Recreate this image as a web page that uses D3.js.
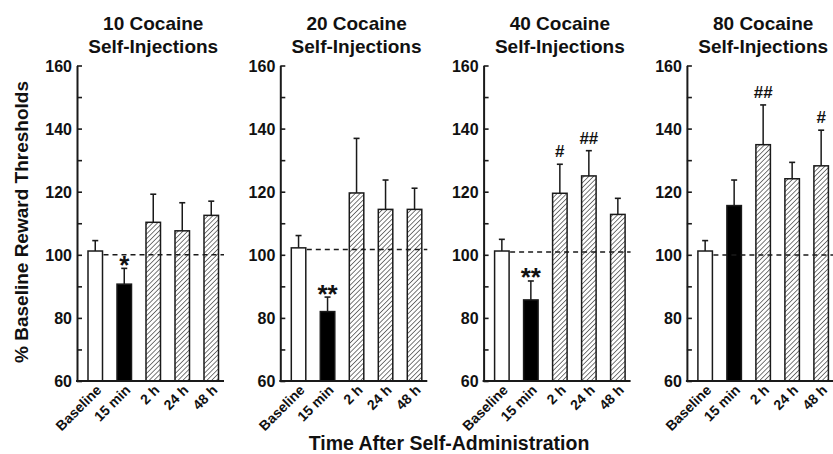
<!DOCTYPE html>
<html>
<head>
<meta charset="utf-8">
<script src="https://cdn.jsdelivr.net/npm/d3@7"></script>
<style>
  html, body { margin: 0; padding: 0; background: #fff; }
  svg { display: block; }
  text { font-family: "Liberation Sans", Arial, Helvetica, sans-serif; font-weight: bold; fill: #111; }
</style>
</head>
<body>
<svg id="chart" width="833" height="454"></svg>
<script>
// ---- data ----
const panelTitles = ["10 Cocaine", "20 Cocaine", "40 Cocaine", "80 Cocaine"];
const subTitle = "Self-Injections";
const categories = ["Baseline", "15 min", "2 h", "24 h", "48 h"];
const barKinds = ["open", "solid", "hatch", "hatch", "hatch"];
const means10 = [101.2, 90.7, 110.3, 107.6, 112.5];
const means20 = [102.2, 82.0, 119.6, 114.4, 114.4];
const means40 = [101.2, 85.7, 119.5, 125.0, 112.8];
const means80 = [101.2, 115.6, 134.9, 124.1, 128.2];
const sem10 = [3.3, 5.0, 8.9, 8.9, 4.5];
const sem20 = [3.9, 4.6, 17.3, 9.3, 6.7];
const sem40 = [3.7, 6.0, 9.2, 8.0, 5.1];
const sem80 = [3.3, 8.1, 12.6, 5.2, 11.3];
const sig10 = ["", "*", "", "", ""];
const sig20 = ["", "**", "", "", ""];
const sig40 = ["", "**", "#", "##", ""];
const sig80 = ["", "", "##", "", "#"];
const refLines = [100, 101.7, 100.9, 99.9];
const yMajorTicks = [60, 80, 100, 120, 140, 160];
const yMinorTicks = [70, 90, 110, 130, 150];
const yLabel = "% Baseline Reward Thresholds";
const xLabel = "Time After Self-Administration";

const panelMeans = [means10, means20, means40, means80];
const panelSems = [sem10, sem20, sem40, sem80];
const panelSigs = [sig10, sig20, sig40, sig80];

// ---- layout ----
const svg = d3.select("#chart");
const ink = "#1a1a1a";
const y = d3.scaleLinear().domain([60, 160]).range([381, 65.5]);
const panelX = d3.scaleLinear().domain([0, 1]).range([77, 280.3]);
const plotW = 147;

const defs = svg.append("defs");
const pat = defs.append("pattern")
  .attr("id", "hatch")
  .attr("patternUnits", "userSpaceOnUse")
  .attr("width", 3.4).attr("height", 3.4)
  .attr("patternTransform", "rotate(45)");
pat.append("rect").attr("width", 3.4).attr("height", 3.4).attr("fill", "#fff");
pat.append("line").attr("x1", 0).attr("y1", 0).attr("x2", 0).attr("y2", 3.4)
  .attr("stroke", "#2a2a2a").attr("stroke-width", 1.25);

const fillFor = k => k === "open" ? "#fff" : (k === "solid" ? "#000" : "url(#hatch)");

panelTitles.forEach((title, p) => {
  const x0 = panelX(p);
  const g = svg.append("g");
  const x = d3.scaleBand().domain(categories)
    .range([x0 + 3.75, x0 + 148.75]).paddingInner(0.5).paddingOuter(0.25);
  const means = panelMeans[p], sems = panelSems[p], sigs = panelSigs[p];
  const cx = x0 + 3.75 + 72.5;

  // titles
  g.append("text").attr("x", cx).attr("y", 30).attr("text-anchor", "middle")
    .style("font-size", "19px").text(title);
  g.append("text").attr("x", cx).attr("y", 53).attr("text-anchor", "middle")
    .style("font-size", "19px").text(subTitle);

  // error bars (upper)
  categories.forEach((c, i) => {
    const bx = x(c) + x.bandwidth() / 2;
    const top = y(means[i] + sems[i]);
    g.append("line").attr("x1", bx).attr("x2", bx)
      .attr("y1", y(means[i])).attr("y2", top)
      .attr("stroke", ink).attr("stroke-width", 1.5);
    g.append("line").attr("x1", bx - 3).attr("x2", bx + 3)
      .attr("y1", top).attr("y2", top)
      .attr("stroke", ink).attr("stroke-width", 1.6);
  });

  // bars
  g.selectAll("rect.bar").data(categories).join("rect")
    .attr("class", "bar")
    .attr("x", c => x(c))
    .attr("width", x.bandwidth())
    .attr("y", (c, i) => y(means[i]))
    .attr("height", (c, i) => y(60) - y(means[i]))
    .attr("fill", (c, i) => fillFor(barKinds[i]))
    .attr("stroke", ink).attr("stroke-width", 1.5);

  // dashed reference line
  g.append("line")
    .attr("x1", x(categories[0]) + x.bandwidth() + 1)
    .attr("x2", x0 + plotW)
    .attr("y1", y(refLines[p])).attr("y2", y(refLines[p]))
    .attr("stroke", ink).attr("stroke-width", 1.5)
    .attr("stroke-dasharray", "5,4");

  // significance markers
  categories.forEach((c, i) => {
    const s = sigs[i];
    if (!s) return;
    const bx = x(c) + x.bandwidth() / 2;
    const top = y(means[i] + sems[i]);
    const isStar = s.indexOf("*") >= 0;
    g.append("text").attr("x", bx).attr("text-anchor", "middle")
      .attr("y", isStar ? top + 5.5 : top - 7)
      .style("font-size", isStar ? "26px" : "17px")
      .text(s);
  });

  // y axis
  const yAxis = d3.axisLeft(y).tickValues(yMajorTicks).tickSize(-5).tickSizeOuter(0)
    .tickPadding(5).tickFormat(d3.format("d"));
  const ya = g.append("g").attr("transform", `translate(${x0},0)`).call(yAxis);
  ya.select(".domain").attr("stroke", ink).attr("stroke-width", 2);
  ya.selectAll(".tick line").attr("stroke", ink).attr("stroke-width", 1.6);
  ya.selectAll(".tick text").style("font-size", "16px")
    .attr("fill", "#111").attr("dy", "0.36em");
  ya.attr("font-family", null).attr("font-size", null);
  const yMinor = d3.axisLeft(y).tickValues(yMinorTicks).tickSize(-5).tickFormat("");
  const ym = g.append("g").attr("transform", `translate(${x0},0)`).call(yMinor);
  ym.select(".domain").remove();
  ym.selectAll(".tick line").attr("stroke", ink).attr("stroke-width", 1.6);

  // x axis baseline
  g.append("line").attr("x1", x0 - 1).attr("x2", x0 + plotW)
    .attr("y1", y(60)).attr("y2", y(60))
    .attr("stroke", ink).attr("stroke-width", 2);

  // category labels
  const xAxis = d3.axisBottom(x).tickSize(0).tickPadding(0);
  const xa = g.append("g").attr("transform", `translate(0,${y(60)})`).call(xAxis);
  xa.select(".domain").remove();
  xa.attr("font-family", null).attr("font-size", null);
  xa.selectAll(".tick text")
    .attr("y", 0).attr("dy", null).attr("x", 0)
    .attr("text-anchor", "end")
    .attr("fill", "#111")
    .attr("transform", "translate(7,10) rotate(-45)")
    .style("font-size", "14px");
});

// axis titles
svg.append("text")
  .attr("transform", "translate(28,222) rotate(-90)")
  .attr("text-anchor", "middle")
  .style("font-size", "19px")
  .text(yLabel);
svg.append("text")
  .attr("x", 449).attr("y", 450)
  .attr("text-anchor", "middle")
  .style("font-size", "19.5px")
  .text(xLabel);
</script>
</body>
</html>
